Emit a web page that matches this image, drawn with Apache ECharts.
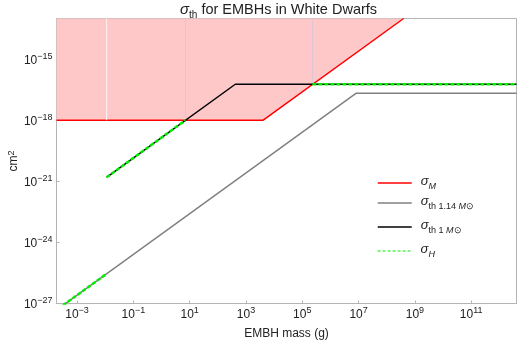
<!DOCTYPE html>
<html>
<head>
<meta charset="utf-8">
<script src="https://cdn.jsdelivr.net/npm/echarts@6/dist/echarts.min.js"></script>
<style>html,body{margin:0;padding:0;background:#fff;}#c{width:518px;height:346px;}</style>
</head>
<body>
<div id="c"></div>
<script>
// Axis extents (g, cm^2)
const xMin = 1.86e-4, xMax = 4.07e12;
const yMin = 1e-27, yMax = 1e-13;
const xTickValues = [1e-3, 1e-1, 1e1, 1e3, 1e5, 1e7, 1e9, 1e11];
const yTickValues = [1e-27, 1e-24, 1e-21, 1e-18, 1e-15];

// sigma_M (red, shaded above)
const sigmaM_x = [1.86e-4, 3.98e3, 3.98e8];
const sigmaM_y = [1e-18, 1e-18, 1e-13];
// sigma_th 1.14 Msun (gray)
const sigmaTh114_x = [3.16e-4, 8.3e6, 4.07e12];
const sigmaTh114_y = [8.1e-28, 2.14e-17, 2.14e-17];
// sigma_th 1 Msun (black)
const sigmaTh1_x = [1.12e-2, 4.17e2, 4.07e12];
const sigmaTh1_y = [1.58e-21, 5.9e-17, 5.9e-17];
// sigma_H (green dotted), three pieces
const sigmaHa_x = [3.16e-4, 1.12e-2];
const sigmaHa_y = [8.1e-28, 2.88e-26];
const sigmaHb_x = [1.12e-2, 7.08];
const sigmaHb_y = [1.58e-21, 1e-18];
const sigmaHc_x = [2.29e5, 4.07e12];
const sigmaHc_y = [5.9e-17, 5.9e-17];
// faint seams inside the shaded region
const seam_x = [1.12e-2, 7.08, 2.29e5];
const seam_y = [1e-18, 1e-18, 5.9e-17];
const seam_colors = ['#fff0f0', '#dcc6d8', '#dcc6d8'];

const FONT = 'Liberation Sans, Arial, sans-serif';
const pairs = (xs, ys) => xs.map((x, i) => [x, ys[i]]);

function supLabel(v) {
  const e = Math.round(Math.log10(v));
  return '{b|10}{s|' + (e < 0 ? '\u2212' + (-e) : String(e)) + '}';
}
const labelRich = {
  b: {fontSize: 12, fontFamily: FONT, color: '#222', lineHeight: 14, verticalAlign: 'bottom', padding: [4, 0, 0, 0]},
  s: {fontSize: 9, fontFamily: FONT, color: '#222', lineHeight: 10, verticalAlign: 'top'}
};

const subRich = {
  i: {fontSize: 13, fontStyle: 'italic', fontFamily: FONT, color: '#222', lineHeight: 16, verticalAlign: 'top'},
  sub: {fontSize: 9, fontFamily: FONT, color: '#222', lineHeight: 10, verticalAlign: 'top', padding: [7, 0, 0, 0]},
  subi: {fontSize: 9, fontStyle: 'italic', fontFamily: FONT, color: '#222', lineHeight: 10, verticalAlign: 'top', padding: [7, 0, 0, 0]}
};

const legendText = {
  sM: '{i|σ}{subi|M}',
  sT114: '{i|σ}{sub|th 1.14 }{subi|M}{sub|⊙}',
  sT1: '{i|σ}{sub|th 1 }{subi|M}{sub|⊙}',
  sH: '{i|σ}{subi|H}'
};
const legendNames = ['sM', 'sT114', 'sT1', 'sH'];
const legendY = [183, 203, 227, 251];

const series = [];
series.push({
  name: 'sM', type: 'line', data: pairs(sigmaM_x, sigmaM_y), symbol: 'none', z: 2,
  lineStyle: {color: '#ff0000', width: 1.5},
  itemStyle: {color: '#ff0000'},
  areaStyle: {color: '#ffc8c8', opacity: 1, origin: 'end'}
});
seam_x.forEach((x, i) => {
  series.push({
    name: 'seam' + i, type: 'line', data: [[x, yMax], [x, seam_y[i]]], symbol: 'none', z: 3,
    lineStyle: {color: seam_colors[i], width: 1}, silent: true
  });
});
series.push({
  name: 'sT114', type: 'line', data: pairs(sigmaTh114_x, sigmaTh114_y), symbol: 'none', z: 4,
  lineStyle: {color: '#808080', width: 1.5}, itemStyle: {color: '#808080'}
});
series.push({
  name: 'sT1', type: 'line', data: pairs(sigmaTh1_x, sigmaTh1_y), symbol: 'none', z: 5,
  lineStyle: {color: '#000000', width: 1.5}, itemStyle: {color: '#000000'}
});
[[sigmaHa_x, sigmaHa_y], [sigmaHb_x, sigmaHb_y], [sigmaHc_x, sigmaHc_y]].forEach(([xs, ys]) => {
  series.push({
    name: 'sH', type: 'line', data: pairs(xs, ys), symbol: 'none', z: 6,
    lineStyle: {color: '#00ee00', width: 2.5, type: [4, 2]}, itemStyle: {color: '#00ee00'}
  });
});

const hiddenSymbol = {color: 'rgba(0,0,0,0)', borderColor: 'rgba(0,0,0,0)', borderWidth: 0, opacity: 0};
const legends = legendNames.map((n, i) => ({
  show: true, orient: 'vertical', left: 377, top: legendY[i] - 8,
  itemWidth: 34, itemHeight: 16, padding: 0,
  selectedMode: false,
  itemStyle: hiddenSymbol,
  data: [n === 'sH'
    ? {name: n, lineStyle: {width: 1.2, type: [3, 2], color: '#00ee00'}, itemStyle: hiddenSymbol}
    : {name: n, lineStyle: {width: 1.5}, itemStyle: hiddenSymbol}],
  formatter: (name) => legendText[name],
  textStyle: {rich: subRich, padding: [0, 0, 0, 4]}
}));

const chart = echarts.init(document.getElementById('c'), null, {renderer: 'canvas'});
chart.setOption({
  animation: false,
  backgroundColor: '#ffffff',
  title: {
    text: '{i|σ}{sub|th}{t| for EMBHs in White Dwarfs}',
    left: 180, top: 2, padding: 0,
    textStyle: {
      fontWeight: 'normal',
      rich: {
        i: {fontSize: 15, fontStyle: 'italic', fontWeight: 'normal', fontFamily: FONT, color: '#222', lineHeight: 17, verticalAlign: 'top'},
        sub: {fontSize: 10, fontWeight: 'normal', fontFamily: FONT, color: '#222', lineHeight: 11, verticalAlign: 'top', padding: [8, 0, 0, 0]},
        t: {fontSize: 14.5, fontWeight: 'normal', fontFamily: FONT, color: '#222', lineHeight: 17, verticalAlign: 'top'}
      }
    }
  },
  legend: legends,
  grid: {left: 56.5, right: 1.5, top: 18.5, bottom: 42.5, containLabel: false, outerBoundsMode: 'none',
         show: true, borderColor: '#b4b4b4', borderWidth: 1, backgroundColor: 'transparent'},
  xAxis: {
    type: 'log', min: xMin, max: xMax,
    name: 'EMBH mass (g)', nameLocation: 'middle', nameGap: 24, nameMoveOverlap: false,
    nameTextStyle: {fontSize: 12, fontFamily: FONT, color: '#222'},
    axisLine: {lineStyle: {color: '#b4b4b4', width: 1}},
    axisTick: {inside: true, length: 3, lineStyle: {color: '#b4b4b4'}, customValues: xTickValues},
    axisLabel: {margin: 3, customValues: xTickValues, formatter: supLabel, rich: labelRich},
    splitLine: {show: false}, minorTick: {show: false}
  },
  yAxis: {
    type: 'log', min: yMin, max: yMax,
    name: 'cm{s|2}', nameLocation: 'middle', nameRotate: 90, nameGap: 37, nameMoveOverlap: false,
    nameTextStyle: {fontSize: 12, fontFamily: FONT, color: '#222', rich: {
      s: {fontSize: 9, fontFamily: FONT, color: '#222', verticalAlign: 'top', lineHeight: 10}
    }},
    axisLine: {lineStyle: {color: '#b4b4b4', width: 1}},
    axisTick: {inside: true, length: 3, lineStyle: {color: '#b4b4b4'}, customValues: yTickValues},
    axisLabel: {margin: 4, customValues: yTickValues, formatter: supLabel, rich: labelRich},
    splitLine: {show: false}, minorTick: {show: false}
  },
  series: series
});
</script>
</body>
</html>
